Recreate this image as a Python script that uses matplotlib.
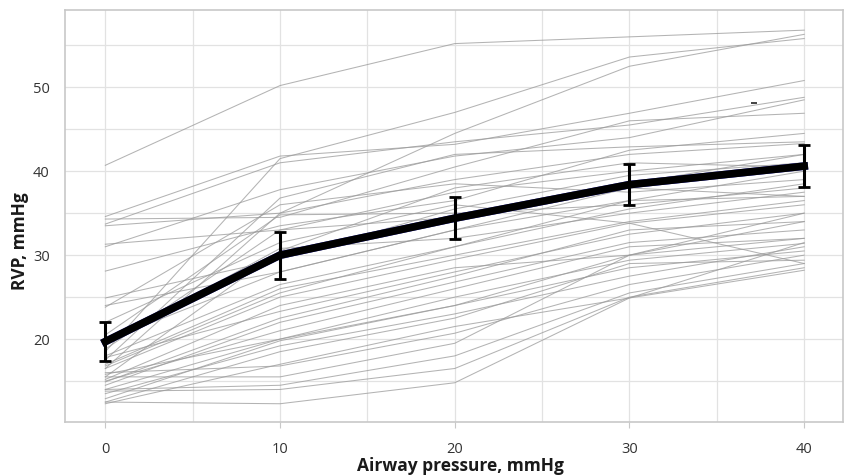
import numpy as np
import matplotlib.pyplot as plt
from matplotlib.ticker import MultipleLocator

plt.rcParams['font.family'] = ['Open Sans', 'DejaVu Sans']

# airway pressure steps
pressure = [0, 10, 20, 30, 40]

# individual subjects, RVP (mmHg) read at each pressure step
subjects = [
    [40.7, 50.2, 55.2, 56.0, 56.8],
    [18.5, 41.5, 47.0, 53.6, 55.8],
    [16.5, 35.0, 44.5, 52.5, 56.3],
    [34.6, 41.8, 43.2, 46.9, 50.8],
    [33.7, 41.0, 43.5, 45.5, 48.8],
    [31.0, 37.8, 41.8, 44.0, 48.5],
    [34.3, 34.5, 40.5, 46.0, 46.9],
    [17.5, 36.8, 42.0, 42.9, 43.5],
    [33.5, 35.0, 39.0, 42.0, 43.3],
    [28.1, 33.5, 36.5, 42.5, 44.5],
    [31.3, 33.0, 34.5, 38.5, 42.0],
    [15.5, 30.5, 38.0, 41.0, 40.5],
    [24.9, 29.5, 35.5, 39.5, 41.0],
    [24.0, 28.0, 33.0, 36.5, 40.0],
    [23.8, 36.0, 38.5, 37.5, 39.0],
    [20.5, 34.8, 35.0, 36.0, 38.0],
    [19.5, 30.8, 32.0, 35.0, 37.5],
    [18.0, 26.5, 31.0, 36.5, 37.0],
    [17.0, 26.0, 30.0, 34.0, 36.5],
    [16.5, 25.0, 29.5, 33.8, 36.0],
    [15.2, 24.0, 28.5, 30.0, 35.0],
    [14.9, 22.5, 27.5, 33.0, 34.0],
    [14.5, 22.0, 26.8, 31.5, 33.0],
    [15.0, 21.0, 26.0, 31.0, 32.0],
    [14.0, 20.0, 25.0, 29.4, 31.4],
    [12.9, 19.8, 24.0, 28.5, 30.5],
    [13.5, 19.2, 23.0, 27.5, 31.0],
    [12.5, 18.5, 22.5, 29.0, 29.4],
    [12.3, 17.0, 21.5, 24.9, 28.2],
    [16.0, 16.8, 20.7, 26.5, 30.0],
    [15.5, 15.5, 19.5, 30.0, 32.0],
    [14.0, 14.5, 18.0, 25.5, 29.0],
    [13.8, 14.0, 16.5, 25.0, 28.5],
    [12.5, 12.3, 14.8, 24.9, 31.5],
    [22.0, 31.5, 36.0, 33.8, 29.0],
    [19.8, 28.0, 33.0, 38.0, 37.0],
    [17.8, 23.3, 28.0, 32.5, 35.0],
    [16.8, 25.5, 31.0, 35.5, 38.5],
    [18.8, 33.0, 37.5, 40.0, 42.0],
    [15.8, 20.0, 24.0, 30.0, 34.0],
]

# group mean and error bar
mean_rvp = [19.7, 30.0, 34.4, 38.4, 40.6]
err_rvp = [2.3, 2.8, 2.5, 2.4, 2.5]

fig = plt.figure(figsize=(8.46, 4.76), dpi=100)
ax = fig.add_axes([0.077, 0.113, 0.919, 0.866])

for s in subjects:
    ax.plot(pressure, s, color='#9a9a9a', lw=0.75, alpha=0.75, zorder=2)

ax.plot([37.1], [48.1], marker='_', color='#222222', ms=5, mew=1.2, zorder=3)

ax.plot(pressure, mean_rvp, color='#2a2acc', lw=5.5, zorder=4)
ax.errorbar(pressure, mean_rvp, yerr=err_rvp, color='black', lw=5.5,
            elinewidth=2.2, capsize=4, capthick=2, zorder=5)

ax.set_xlim(-2.3, 42.2)
ax.set_ylim(10.1, 59.2)
ax.set_xticks(pressure)
ax.set_yticks([20, 30, 40, 50])
ax.xaxis.set_minor_locator(MultipleLocator(5))
ax.yaxis.set_minor_locator(MultipleLocator(5))
ax.grid(which='both', color='#e2e2e2', lw=0.9, zorder=0)
ax.set_axisbelow(True)
for sp in ax.spines.values():
    sp.set_color('#c8c8c8')
    sp.set_linewidth(1.2)
ax.tick_params(axis='x', which='major', length=4, color='#c8c8c8',
               labelsize=10.5, labelcolor='#333333', pad=10)
ax.tick_params(axis='y', which='major', length=0, labelsize=10.5,
               labelcolor='#333333', pad=11)
ax.tick_params(which='minor', length=0)

ax.set_xlabel('Airway pressure, mmHg', fontsize=12.5, fontweight='bold',
              color='#1a1a1a')
ax.xaxis.set_label_coords(0.509, -0.084)
ax.set_ylabel('RVP, mmHg', fontsize=12.5, fontweight='bold',
              color='#1a1a1a')
ax.yaxis.set_label_coords(-0.047, 0.44)

fig.savefig('out.png', dpi=100)
